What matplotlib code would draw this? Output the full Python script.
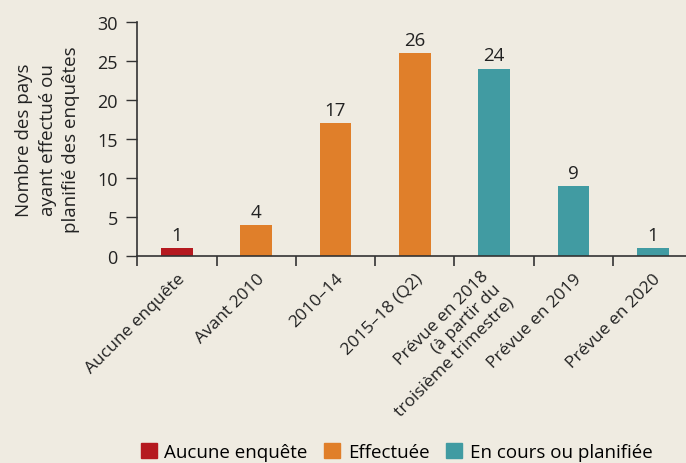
import numpy as np
import matplotlib.pyplot as plt
import matplotlib.transforms as mtransforms
from matplotlib.patches import Patch

categories = ["Aucune enquête", "Avant 2010", "2010–14", "2015–18 (Q2)",
              "Prévue en 2018\n(à partir du\ntroisième trimestre)",
              "Prévue en 2019", "Prévue en 2020"]
values = [1, 4, 17, 26, 24, 9, 1]
groups = ["none", "done", "done", "done", "plan", "plan", "plan"]
legend_labels = ["Aucune enquête", "Effectuée", "En cours ou planifiée"]

colors = {"none": "#b5191f", "done": "#e07f2a", "plan": "#419ba2"}
bg = "#efebe1"
ink = '#222222'

plt.rcParams['font.family'] = ['Open Sans', 'DejaVu Sans']

fig = plt.figure(figsize=(6.86, 4.64), dpi=100, facecolor=bg)
ax = fig.add_axes([0.2, 0.4455, 0.8, 0.5055])
ax.set_facecolor(bg)

x = np.arange(len(values))
ax.bar(x, values, width=0.4, color=[colors[g] for g in groups])
for xi, v in zip(x, values):
    ax.text(xi, v + 0.55, str(v), ha='center', va='bottom', fontsize=13.5, color=ink)

ax.set_xlim(-0.5, 6.42)
ax.set_ylim(0, 30)
ax.set_yticks(range(0, 31, 5))
ax.tick_params(axis='y', labelsize=13, length=8, width=1, color='#333333',
               labelcolor=ink, pad=6)

ax.set_xticks(x)
ax.set_xticklabels(categories, rotation=45, ha='right', rotation_mode='anchor',
                   fontsize=12.5, color=ink, multialignment='right', linespacing=1.2)
ax.tick_params(axis='x', which='major', length=0, pad=10)
ax.set_xticks(np.arange(-0.5, 6.5, 1), minor=True)
ax.tick_params(axis='x', which='minor', length=7, width=1.2, color='#333333', direction='out')

# the three-line label sits a little left of its bar
lab = ax.get_xticklabels()[4]
lab.set_transform(lab.get_transform() + mtransforms.ScaledTranslation(-14/100, 3/100, fig.dpi_scale_trans))

for s in ['top', 'right']:
    ax.spines[s].set_visible(False)
for s in ['left', 'bottom']:
    ax.spines[s].set_color('#333333')
    ax.spines[s].set_linewidth(1.2)

ax.set_ylabel("Nombre des pays\nayant effectué ou\nplanifié des enquêtes",
              fontsize=13.5, color=ink, linespacing=1.4)
ax.yaxis.set_label_coords(-0.104, 0.5)

handles = [Patch(color=colors[k]) for k in ["none", "done", "plan"]]
fig.legend(handles, legend_labels, loc='lower center', bbox_to_anchor=(0.578, -0.012),
           ncol=3, frameon=False, fontsize=13.5, handlelength=0.85, handleheight=0.85,
           handletextpad=0.4, columnspacing=0.9, borderaxespad=0)

fig.savefig("out.png", dpi=100, facecolor=bg)
